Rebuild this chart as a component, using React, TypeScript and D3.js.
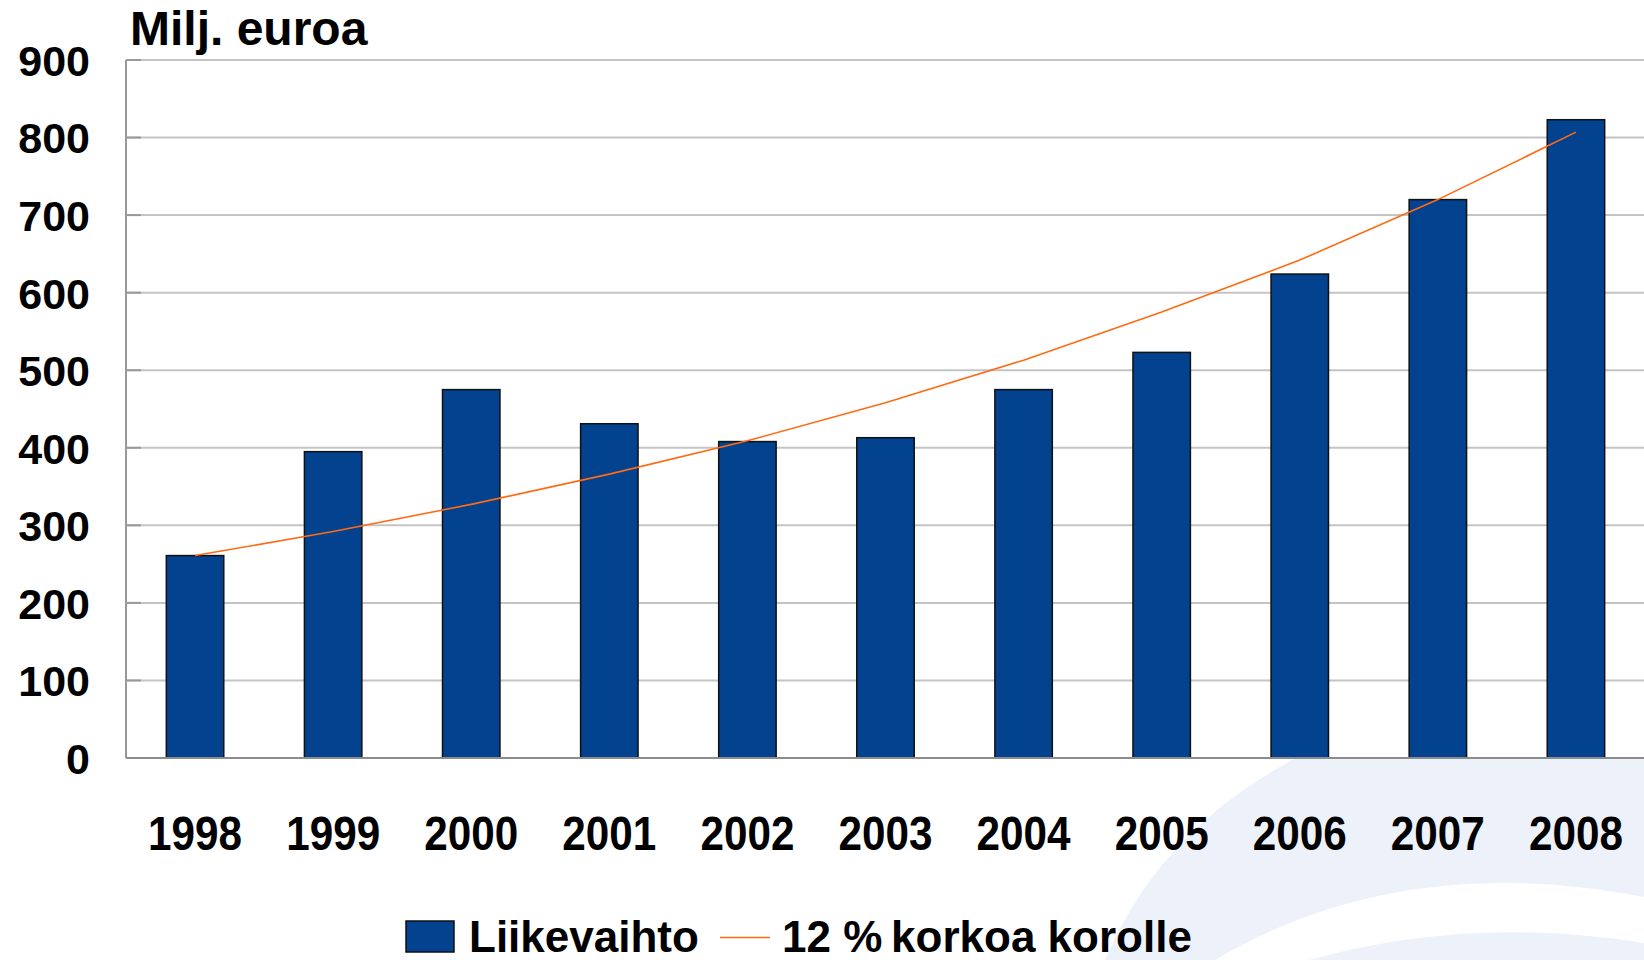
import React, { useEffect, useRef } from 'react';
import * as d3 from 'd3';

const years = ['1998', '1999', '2000', '2001', '2002', '2003', '2004', '2005', '2006', '2007', '2008'];
const liikevaihto = [261, 395, 475, 431, 408, 413, 475, 523, 624, 720, 823];
const korko12 = [261, 292, 327, 366, 409, 458, 513, 575, 642, 720, 807];
const yTicks = [0, 100, 200, 300, 400, 500, 600, 700, 800, 900];

const FONT = '"Liberation Sans", Arial, Helvetica, sans-serif';
const BAR_COLOR = '#03428e';
const LINE_COLOR = '#ff6a13';

const App: React.FC = () => {
  const ref = useRef<SVGSVGElement>(null);

  useEffect(() => {
    if (!ref.current) return;
    const width = 1644, height = 960;
    const left = 126, right = 1645, top = 60, bottom = 758;

    const svg = d3.select(ref.current);
    svg.selectAll('*').remove();
    svg.attr('width', width).attr('height', height);

    svg.append('rect').attr('width', width).attr('height', height).attr('fill', '#fff');

    // decorative swoosh in the lower right corner
    svg.append('path')
      .attr('d', 'M1105,960 Q1160,830 1296,758 L1644,758 L1644,960 Z')
      .attr('fill', '#edf2fa');
    svg.append('path')
      .attr('d', 'M1215,960 Q1400,850 1644,897 L1644,943 Q1470,915 1309,960 Z')
      .attr('fill', '#fff');

    const x = d3.scaleBand<string>()
      .domain(years)
      .range([left, right])
      .paddingInner(0.584)
      .paddingOuter(0.292);

    const y = d3.scaleLinear().domain([0, 900]).range([bottom, top]);

    // gridlines
    svg.append('g')
      .selectAll('line')
      .data(yTicks.filter(t => t > 0))
      .join('line')
      .attr('x1', left).attr('x2', width)
      .attr('y1', d => y(d)).attr('y2', d => y(d))
      .attr('stroke', '#c4c4c4')
      .attr('stroke-width', 2);

    // inner tick marks
    svg.append('g')
      .selectAll('line')
      .data(yTicks)
      .join('line')
      .attr('x1', left).attr('x2', left + 15)
      .attr('y1', d => y(d)).attr('y2', d => y(d))
      .attr('stroke', '#999')
      .attr('stroke-width', 2);

    svg.append('line')
      .attr('x1', left).attr('x2', left).attr('y1', top).attr('y2', bottom)
      .attr('stroke', '#999').attr('stroke-width', 2);

    // bars
    svg.append('g')
      .selectAll('rect')
      .data(liikevaihto)
      .join('rect')
      .attr('x', (_, i) => x(years[i]) as number)
      .attr('y', d => y(d))
      .attr('width', x.bandwidth())
      .attr('height', d => bottom - y(d))
      .attr('fill', BAR_COLOR)
      .attr('stroke', '#111')
      .attr('stroke-width', 1.5);

    svg.append('line')
      .attr('x1', left).attr('x2', width).attr('y1', bottom).attr('y2', bottom)
      .attr('stroke', '#8c8c8c').attr('stroke-width', 2);

    // 12 % line
    const line = d3.line<number>()
      .x((_, i) => (x(years[i]) as number) + x.bandwidth() / 2)
      .y(d => y(d));
    svg.append('path')
      .datum(korko12)
      .attr('d', line)
      .attr('fill', 'none')
      .attr('stroke', LINE_COLOR)
      .attr('stroke-width', 1.6);

    // y labels
    svg.append('g')
      .selectAll('text')
      .data(yTicks)
      .join('text')
      .attr('x', 90)
      .attr('y', d => y(d))
      .attr('dy', '0.37em')
      .attr('text-anchor', 'end')
      .attr('font-family', FONT)
      .attr('font-weight', 'bold')
      .attr('font-size', 43)
      .text(d => d);

    // x labels
    svg.append('g')
      .selectAll('text')
      .data(years)
      .join('text')
      .attr('x', d => (x(d) as number) + x.bandwidth() / 2)
      .attr('y', 850)
      .attr('text-anchor', 'middle')
      .attr('font-family', FONT)
      .attr('font-weight', 'bold')
      .attr('font-size', 48)
      .attr('textLength', 94)
      .attr('lengthAdjust', 'spacingAndGlyphs')
      .text(d => d);

    // unit title
    svg.append('text')
      .attr('x', 130).attr('y', 45)
      .attr('font-family', FONT)
      .attr('font-weight', 'bold')
      .attr('font-size', 48)
      .text('Milj. euroa');

    // legend
    const lg = svg.append('g').attr('font-family', FONT).attr('font-weight', 'bold').attr('font-size', 44);
    lg.append('rect')
      .attr('x', 406).attr('y', 921).attr('width', 48).attr('height', 31)
      .attr('fill', BAR_COLOR).attr('stroke', '#111').attr('stroke-width', 1.5);
    lg.append('text').attr('x', 469).attr('y', 952).text('Liikevaihto');
    lg.append('line')
      .attr('x1', 720).attr('x2', 770).attr('y1', 937.5).attr('y2', 937.5)
      .attr('stroke', LINE_COLOR).attr('stroke-width', 1.6);
    lg.append('text').attr('x', 782).attr('y', 952).text('12 %\u2009korkoa korolle');
  }, []);

  return (
    <svg ref={ref} style={{ position: 'absolute', left: 0, top: 0, display: 'block' }} />
  );
};

export default App;
